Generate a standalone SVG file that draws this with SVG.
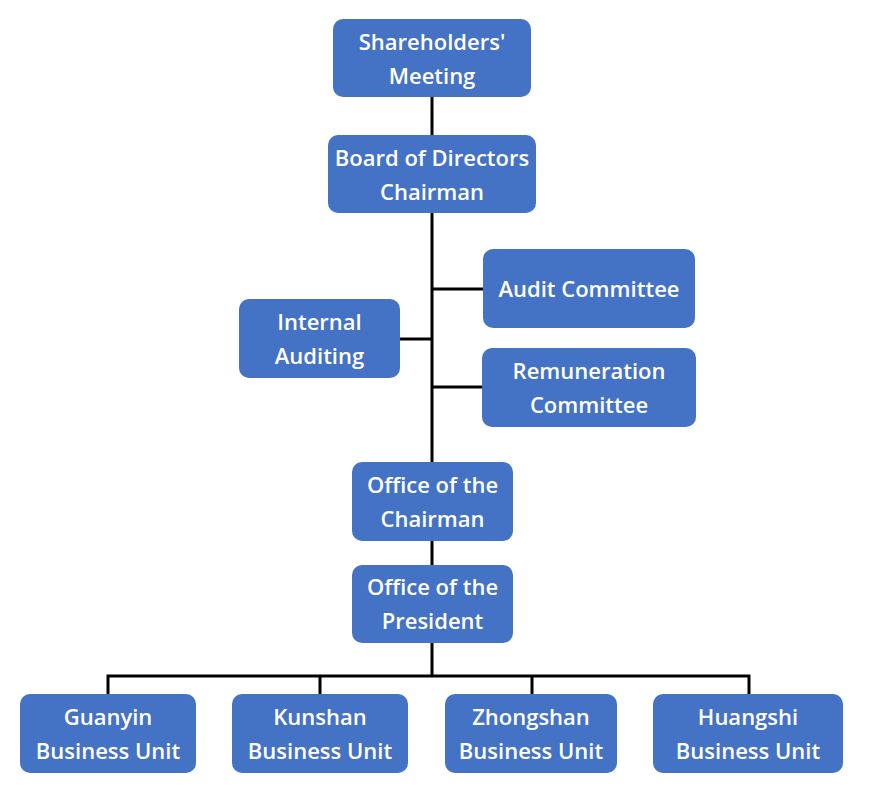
<svg xmlns="http://www.w3.org/2000/svg" width="870" height="791" viewBox="0 0 870 791">
<style>
.box{fill:#4472C4;}
.t{fill:#fff;font-family:"Open Sans","Noto Sans",sans-serif;font-weight:600;font-size:22px;text-anchor:middle;}
.c{stroke:#000;stroke-width:3;fill:none;}
</style>
<rect width="870" height="791" fill="#fff"/>
<g id="connectors">
<line class="c" x1="432" y1="97" x2="432" y2="135"/>
<line class="c" x1="432" y1="213" x2="432" y2="462"/>
<line class="c" x1="432" y1="289" x2="483" y2="289"/>
<line class="c" x1="400" y1="339" x2="432" y2="339"/>
<line class="c" x1="432" y1="387" x2="482" y2="387"/>
<line class="c" x1="432" y1="541" x2="432" y2="565"/>
<line class="c" x1="432" y1="643" x2="432" y2="676"/>
<polyline class="c" points="108,694 108,676 749,676 749,694"/>
<line class="c" x1="320" y1="676" x2="320" y2="694"/>
<line class="c" x1="532" y1="676" x2="532" y2="694"/>
</g>
<g id="shareholders">
<rect class="box" x="333" y="19" width="198" height="78" rx="10"/>
<text class="t" x="432" y="50">Shareholders'</text>
<text class="t" x="432" y="84">Meeting</text>
</g>
<g id="board">
<rect class="box" x="328" y="135" width="208" height="78" rx="10"/>
<text class="t" x="432" y="166">Board of Directors</text>
<text class="t" x="432" y="200">Chairman</text>
</g>
<g id="audit">
<rect class="box" x="483" y="249" width="212" height="79" rx="10"/>
<text class="t" x="589" y="297">Audit Committee</text>
</g>
<g id="internal">
<rect class="box" x="239" y="299" width="161" height="79" rx="10"/>
<text class="t" x="319.5" y="330">Internal</text>
<text class="t" x="319.5" y="364">Auditing</text>
</g>
<g id="remuneration">
<rect class="box" x="482" y="348" width="214" height="79" rx="10"/>
<text class="t" x="589" y="379">Remuneration</text>
<text class="t" x="589" y="413">Committee</text>
</g>
<g id="office-chairman">
<rect class="box" x="352" y="462" width="161" height="79" rx="10"/>
<text class="t" x="432.5" y="493">Office of the</text>
<text class="t" x="432.5" y="527">Chairman</text>
</g>
<g id="office-president">
<rect class="box" x="352" y="565" width="161" height="78" rx="10"/>
<text class="t" x="432.5" y="595">Office of the</text>
<text class="t" x="432.5" y="629">President</text>
</g>
<g id="guanyin">
<rect class="box" x="20" y="694" width="176" height="79" rx="10"/>
<text class="t" x="108" y="725">Guanyin</text>
<text class="t" x="108" y="759">Business Unit</text>
</g>
<g id="kunshan">
<rect class="box" x="232" y="694" width="176" height="79" rx="10"/>
<text class="t" x="320" y="725">Kunshan</text>
<text class="t" x="320" y="759">Business Unit</text>
</g>
<g id="zhongshan">
<rect class="box" x="445" y="694" width="172" height="79" rx="10"/>
<text class="t" x="531" y="725">Zhongshan</text>
<text class="t" x="531" y="759">Business Unit</text>
</g>
<g id="huangshi">
<rect class="box" x="653" y="694" width="190" height="79" rx="10"/>
<text class="t" x="748" y="725">Huangshi</text>
<text class="t" x="748" y="759">Business Unit</text>
</g>
</svg>
